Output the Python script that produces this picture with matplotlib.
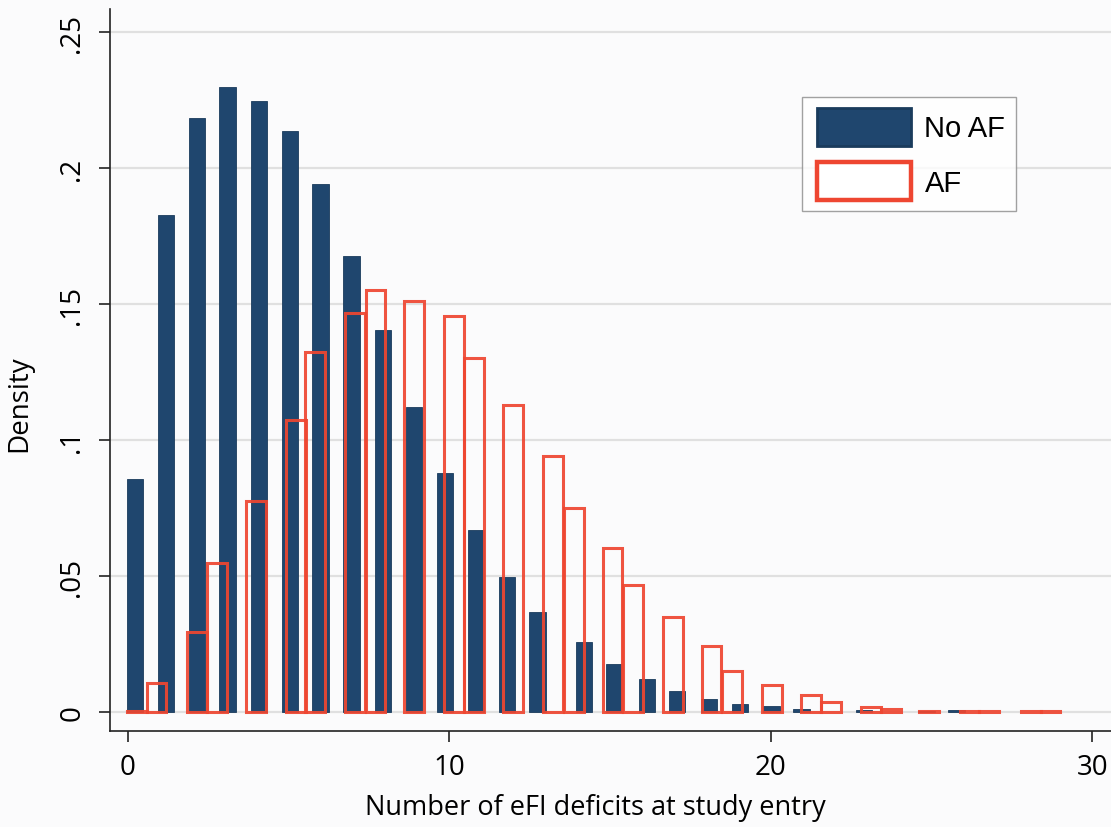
import matplotlib
matplotlib.use("Agg")
import matplotlib.pyplot as plt
from matplotlib.patches import Patch, Rectangle
from matplotlib.legend_handler import HandlerPatch

# ---- data ----
# No AF histogram: left edges of the bars (x units) and density
noaf_left = [-0.03, 0.93, 1.91, 2.85, 3.83, 4.79, 5.74, 6.71, 7.69, 8.65,
             9.61, 10.58, 11.55, 12.49, 13.94, 14.89, 15.89, 16.83, 17.82,
             18.78, 19.77, 20.70, 22.64, 24.59, 25.52]
noaf_density = [0.0856, 0.1828, 0.2184, 0.2298, 0.2245, 0.2136, 0.1942, 0.1676,
                0.1404, 0.1121, 0.0880, 0.0668, 0.0495, 0.0366, 0.0258, 0.0176,
                0.0122, 0.0079, 0.0049, 0.0031, 0.0021, 0.0011, 0.0006, 0.0004,
                0.0007]

# AF histogram: left edges of the bars (x units) and density
af_left = [-0.01, 0.59, 1.85, 2.48, 3.68, 4.92, 5.52, 6.76, 7.40, 8.60,
           9.85, 10.47, 11.68, 12.93, 13.58, 14.77, 15.40, 16.66, 17.85,
           18.48, 19.72, 20.94, 21.56, 22.82, 23.43, 24.61, 25.87, 26.49,
           27.78, 28.39]
af_density = [0.0004, 0.0107, 0.0293, 0.0548, 0.0775, 0.1072, 0.1322, 0.1466,
              0.1550, 0.1512, 0.1456, 0.1300, 0.1128, 0.0940, 0.0749, 0.0604,
              0.0468, 0.0351, 0.0244, 0.0152, 0.0100, 0.0062, 0.0037, 0.0019,
              0.0010, 0.0004, 0.0004, 0.0004, 0.0004, 0.0004]

series_labels = ["No AF", "AF"]
x_ticks = [0, 10, 20, 30]
y_ticks = [0, 0.05, 0.10, 0.15, 0.20, 0.25]
y_ticklabels = ["0", ".05", ".1", ".15", ".2", ".25"]
x_title = "Number of eFI deficits at study entry"
y_title = "Density"

# ---- style ----
NAVY = "#1f466e"
NAVY_EDGE = "#1a3b5c"
RED = "#ee4631"
BG = "#fbfbfc"
W, H = 1111, 828

fig = plt.figure(figsize=(W / 100, H / 100), dpi=100, facecolor=BG)
ax = fig.add_axes([110 / W, (H - 732) / H, (W - 110) / W, (732 - 10) / H])
ax.set_facecolor(BG)

ax.bar(noaf_left, noaf_density, width=0.507, align="edge", color=NAVY,
       edgecolor=NAVY_EDGE, linewidth=0.6, zorder=2)
ax.bar(af_left, af_density, width=0.613, align="edge", fill=False,
       edgecolor=RED, linewidth=2.2, alpha=0.92, zorder=3)

ax.set_xlim(-0.551, 30.58)
ax.set_ylim(-0.00698, 0.2585)

ax.set_xticks(x_ticks)
ax.set_yticks(y_ticks)
ax.set_yticklabels(y_ticklabels)

for lab in ax.get_xticklabels():
    lab.set_fontfamily("Open Sans")
    lab.set_fontsize(20)
for lab in ax.get_yticklabels():
    lab.set_fontfamily("Open Sans")
    lab.set_fontsize(20)
    lab.set_rotation(90)
    lab.set_va("center")

ax.tick_params(axis="both", length=8, width=1.2, color="#222222")
ax.tick_params(axis="x", pad=8)
ax.tick_params(axis="y", pad=9)

ax.yaxis.grid(True, color="#e0e0e0", linewidth=1.6)
ax.set_axisbelow(True)

for s in ("top", "right"):
    ax.spines[s].set_visible(False)
for s in ("left", "bottom"):
    ax.spines[s].set_color("#222222")
    ax.spines[s].set_linewidth(1.2)

ax.set_xlabel(x_title, family="Open Sans", fontsize=19.5, va="center")
ax.xaxis.set_label_coords((595 - 110) / 1001, (732 - 808) / 722)
ax.set_ylabel(y_title, family="Open Sans", fontsize=20)
ax.yaxis.set_label_coords((33 - 110) / 1001, (732 - 404) / 722)


def inset_rect(legend, orig_handle, xdescent, ydescent, width, height, fontsize):
    shift = width * 5.0 / 99.0
    return Rectangle((-xdescent + shift, -ydescent), width - shift, height)


handles = [Patch(facecolor=NAVY, edgecolor=NAVY_EDGE, linewidth=2),
           Patch(facecolor="white", edgecolor=RED, linewidth=3.2)]
leg = ax.legend(handles, series_labels, loc="upper left",
                bbox_to_anchor=(802 / W, 1 - 98 / H), bbox_transform=fig.transFigure,
                prop=dict(family="Liberation Sans", size=21),
                handlelength=3.39, handleheight=1.628, handletextpad=0.45,
                borderpad=0.36, labelspacing=0.58, borderaxespad=0,
                handler_map={Patch: HandlerPatch(patch_func=inset_rect)},
                frameon=True, fancybox=False)
leg.get_frame().set_edgecolor("#8a8a8a")
leg.get_frame().set_linewidth(1.0)
leg.get_frame().set_facecolor("white")

fig.savefig("out.png", dpi=100, facecolor=BG)
